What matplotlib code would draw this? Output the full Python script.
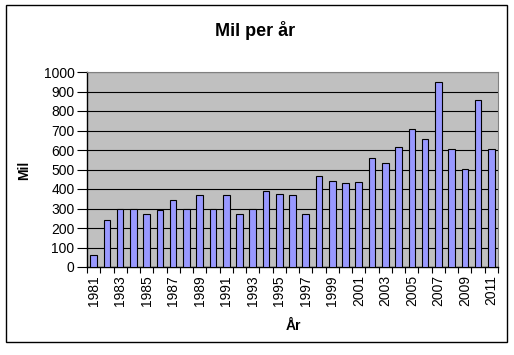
import numpy as np
import matplotlib.pyplot as plt
from matplotlib.patches import Rectangle

plt.rcParams['font.family'] = ['Liberation Sans', 'DejaVu Sans']

years = list(range(1981, 2012))
mil = [60, 240, 300, 300, 270, 290, 345, 300, 370, 300,
       370, 270, 300, 390, 375, 370, 270, 465, 440, 430,
       435, 560, 535, 615, 710, 655, 950, 605, 505, 855, 605]
yticks = list(range(0, 1001, 100))

W, H = 514, 355
fig = plt.figure(figsize=(W / 100, H / 100), dpi=100)
fig.patch.set_facecolor('white')

# outer chart border
fig.patches.append(Rectangle((6 / W, 1 - 342 / H), 501 / W, 337 / H,
                             transform=fig.transFigure, fill=False,
                             edgecolor='black', linewidth=1.0))

ax = fig.add_axes([87 / W, 1 - 267 / H, 411 / W, 195 / H])
ax.set_facecolor('#C0C0C0')

x = np.arange(len(years))
ax.bar(x, mil, width=0.5, color='#9999FF', edgecolor='black', linewidth=0.8, zorder=3)

ax.set_xlim(-0.5, len(years) - 0.5)
ax.set_ylim(0, 1000)
ax.set_yticks(yticks)
ax.set_yticklabels([str(v) for v in yticks], fontsize=10)
ax.yaxis.grid(True, color='black', linewidth=0.8, zorder=1)
ax.set_axisbelow(True)

# year labels every other year, tick marks between categories
ax.set_xticks(x[::2])
ax.set_xticklabels([str(y) for y in years[::2]], rotation=90, fontsize=10)
ax.tick_params(axis='x', length=0, pad=6)
ax.set_xticks(np.arange(-0.5, len(years) + 0.5, 1), minor=True)
ax.tick_params(axis='x', which='minor', length=4, width=0.8, color='black')
ax.tick_params(axis='y', length=7, width=0.8, pad=2)

for s in ['top', 'right']:
    ax.spines[s].set_color('#808080')
for s in ['left', 'bottom']:
    ax.spines[s].set_color('black')
    ax.spines[s].set_linewidth(1.0)

fig.text(255 / W, 1 - 30 / H, 'Mil per år', ha='center', va='center',
         fontsize=13, fontweight='bold')
fig.text(24 / W, 1 - 170 / H, 'Mil', ha='center', va='center',
         rotation=90, fontsize=10, fontweight='bold')
fig.text(293 / W, 1 - 326 / H, 'År', ha='center', va='center',
         fontsize=10, fontweight='bold')

fig.savefig('out.png', dpi=100)
